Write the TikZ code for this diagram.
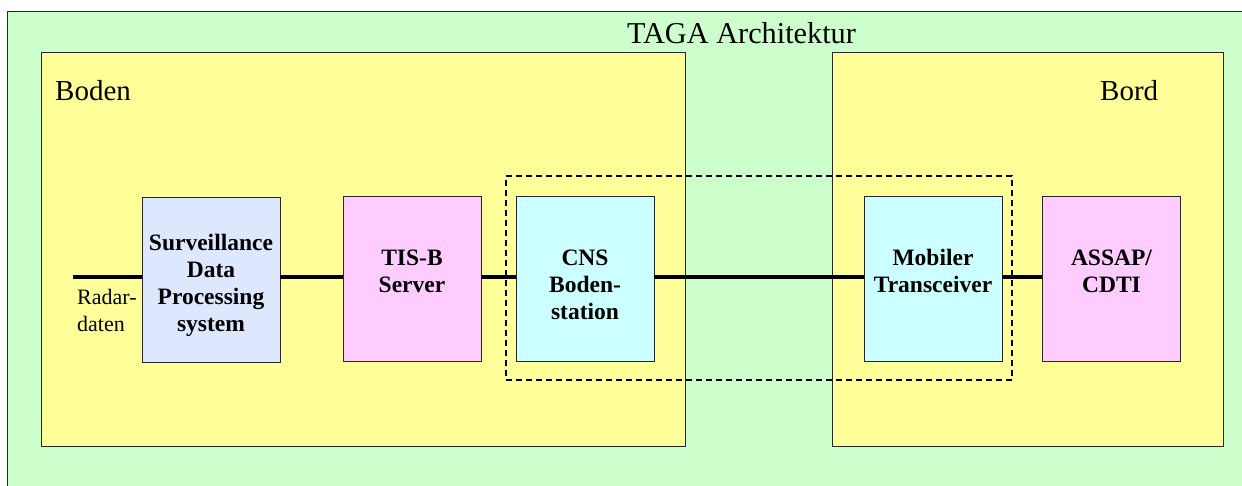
\documentclass[tikz,border=0pt]{standalone}
\usepackage{fontspec}
\setmainfont{Liberation Serif}
\definecolor{archgreen}{HTML}{CCFFCC}
\definecolor{zoneyellow}{HTML}{FFFF99}
\definecolor{sdpblue}{HTML}{DDE8FF}
\definecolor{unitpink}{HTML}{FFCCFF}
\definecolor{unitcyan}{HTML}{CCFFFF}
\begin{document}
\begin{tikzpicture}[x=1pt,y=-1pt,
  frame/.style={draw=black!85, line width=0.9pt},
  zone/.style={frame, fill=zoneyellow, inner sep=0pt, minimum height=394pt},
  unit/.style={frame, inner sep=0pt, minimum width=138pt, minimum height=165pt},
  unittext/.style={inner sep=0pt, align=center,
    font=\fontsize{23.5}{27}\selectfont\bfseries},
  link/.style={line width=3.6pt},
  bigtext/.style={inner sep=0pt, font=\fontsize{29}{33}\selectfont}]
\useasboundingbox (0,0) rectangle (1242,485);
\fill[white] (0,0) rectangle (1242,485);
% outer architecture frame
\draw[frame, fill=archgreen] (7,11) rectangle (1262,505);
\node[bigtext, font=\fontsize{30.3}{34}\selectfont, anchor=base] (title) at (741.5,43) {TAGA Architektur};
% ground and aircraft zones
\node[zone, minimum width=644pt] (boden) at (363,249) {};
\node[zone, minimum width=391pt] (bord) at (1027.5,249) {};
\node[bigtext, anchor=base west] (bodenlbl) at (55,100) {Boden};
\node[bigtext, anchor=base west] (bordlbl) at (1100,100) {Bord};
% functional units
\node[unit, fill=sdpblue] (sdp) at (211,280) {};
\node[unit, fill=unitpink] (tis) at (412,278.5) {};
\node[unit, fill=unitcyan] (cns) at (585,278.5) {};
\node[unit, fill=unitcyan] (mob) at (933,278.5) {};
\node[unit, fill=unitpink] (assap) at (1111.5,278.5) {};
\node[unittext] (sdptxt) at ([yshift=-5pt]sdp.center) {Surveillance\\Data\\Processing\\system};
\node[unittext] (tistxt) at ([yshift=-6pt]tis.center) {TIS-B\\Server\\\mbox{}};
\node[unittext] (cnstxt) at ([yshift=-6.5pt]cns.center) {CNS\\Boden-\\station};
\node[unittext] (mobtxt) at ([yshift=-6pt]mob.center) {Mobiler\\Transceiver\\\mbox{}};
\node[unittext] (assaptxt) at ([yshift=-6pt]assap.center) {ASSAP/\\CDTI\\\mbox{}};
% data link group
\node[draw, dashed, dash pattern=on 6pt off 4pt, line width=1.6pt,
  inner sep=0pt, minimum width=506pt, minimum height=204pt] (group) at (759,278) {};
% connections
\coordinate (radar) at (73,277);
\node[anchor=north west, inner sep=0pt, align=left,
  font=\fontsize{22}{27}\selectfont] (radarlbl) at (77,289) {Radar-\\daten};
\draw[link] (radar) -- (sdp.west |- radar);
\draw[link] (sdp.east |- radar) -- (tis.west |- radar);
\draw[link] (tis.east |- radar) -- (cns.west |- radar);
\draw[link] (cns.east |- radar) -- (mob.west |- radar);
\draw[link] (mob.east |- radar) -- (assap.west |- radar);
\end{tikzpicture}
\end{document}
